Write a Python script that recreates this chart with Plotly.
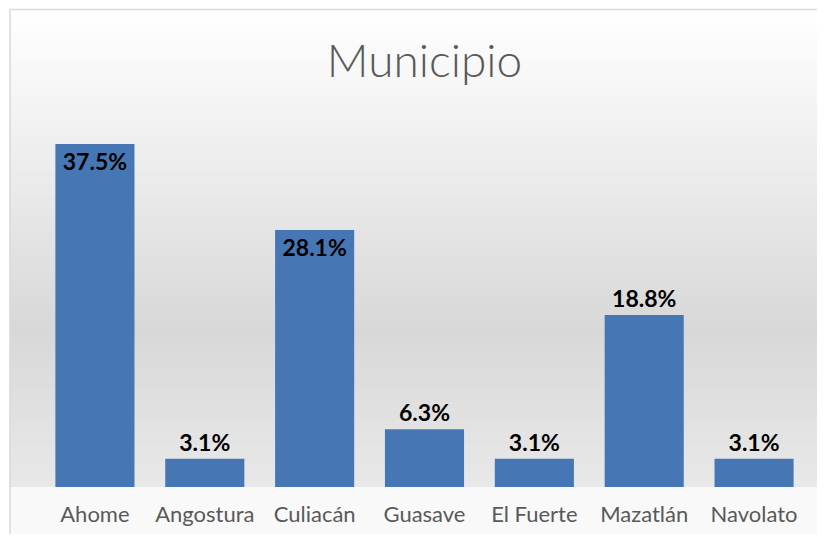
import plotly.graph_objects as go

categories = ["Ahome", "Angostura", "Culiacán", "Guasave", "El Fuerte", "Mazatlán", "Navolato"]
values = [37.5, 3.1, 28.1, 6.3, 3.1, 18.8, 3.1]
label_pos = ["inside", "outside", "inside", "outside", "outside", "outside", "outside"]
title_text = "Municipio"

VW, VH = 825, 542
OFF = 8  # page body margin offset
W, H = VW - 2 * OFF, VH - 2 * OFF
# plot area in viewport px
VX0, VX1, VY0, VY1 = 39.5, 809.5, 121, 487
L = VX0 - OFF
R = W - (VX1 - OFF)
T = VY0 - OFF
B = H - (VY1 - OFF)

fig = go.Figure()
fig.add_trace(go.Bar(
    x=categories, y=values,
    marker=dict(color="#4677b4", line=dict(width=0)),
    text=[f"{v:.1f}%" for v in values],
    textposition=label_pos,
    insidetextanchor="end",
    textfont=dict(family="Lato", size=23, color="black", weight="bold"),
    cliponaxis=False,
))

def lerp(c1, c2, t):
    return tuple(round(a + (b - a) * t) for a, b in zip(c1, c2))

pw = W - L - R
ph = H - T - B
def vy(y):  # viewport y -> paper
    return (H - B - (y - OFF)) / ph
def vx(x):  # viewport x -> paper
    return (x - OFF - L) / pw

stops = [(9, (255, 255, 255)), (120, (242, 242, 242)), (330, (216, 216, 216)), (487, (232, 232, 232))]
shapes = []
n = 80
y_top, y_bot = 9, 487
for i in range(n):
    ya = y_top + (y_bot - y_top) * i / n
    yb = y_top + (y_bot - y_top) * (i + 1) / n
    ym = (ya + yb) / 2
    for j in range(len(stops) - 1):
        if stops[j][0] <= ym <= stops[j + 1][0]:
            t = (ym - stops[j][0]) / (stops[j + 1][0] - stops[j][0])
            c = lerp(stops[j][1], stops[j + 1][1], t)
            break
    shapes.append(dict(type="rect", xref="paper", yref="paper", layer="below",
                       x0=vx(9), x1=vx(VW + 20), y0=vy(yb + 0.5), y1=vy(ya),
                       fillcolor="rgb(%d,%d,%d)" % c, line=dict(width=0)))
shapes.append(dict(type="rect", xref="paper", yref="paper", layer="below",
                   x0=vx(9), x1=vx(VW + 20), y0=vy(VH + 20), y1=vy(487),
                   fillcolor="#f9f9f9", line=dict(width=0)))
# chart-area border: top and left edges only (others fall outside the view)
shapes.append(dict(type="line", xref="paper", yref="paper", layer="below",
                   x0=vx(9.5), x1=vx(VW + 20), y0=vy(9.5), y1=vy(9.5),
                   line=dict(width=1.5, color="#d9d9d9")))
shapes.append(dict(type="line", xref="paper", yref="paper", layer="below",
                   x0=vx(9.5), x1=vx(9.5), y0=vy(9.5), y1=vy(VH + 20),
                   line=dict(width=1.5, color="#d9d9d9")))

fig.update_layout(
    width=W, height=H,
    margin=dict(l=L, r=R, t=T, b=B),
    paper_bgcolor="white", plot_bgcolor="rgba(0,0,0,0)",
    bargap=0.28,
    showlegend=False,
    shapes=shapes,
    title=dict(text=title_text, xref="paper", x=0.5, xanchor="center", y=1 - (61 - OFF) / H, yanchor="middle",
               font=dict(family="Lato", size=46, color="#595959", weight=300)),
    xaxis=dict(showgrid=False, showline=False, zeroline=False,
               ticks="outside", ticklen=8, tickcolor="rgba(0,0,0,0)",
               tickfont=dict(family="Lato", size=22, color="#595959")),
    yaxis=dict(range=[0, 40], visible=False, showgrid=False, zeroline=False),
)

fig.write_html("out.html")
